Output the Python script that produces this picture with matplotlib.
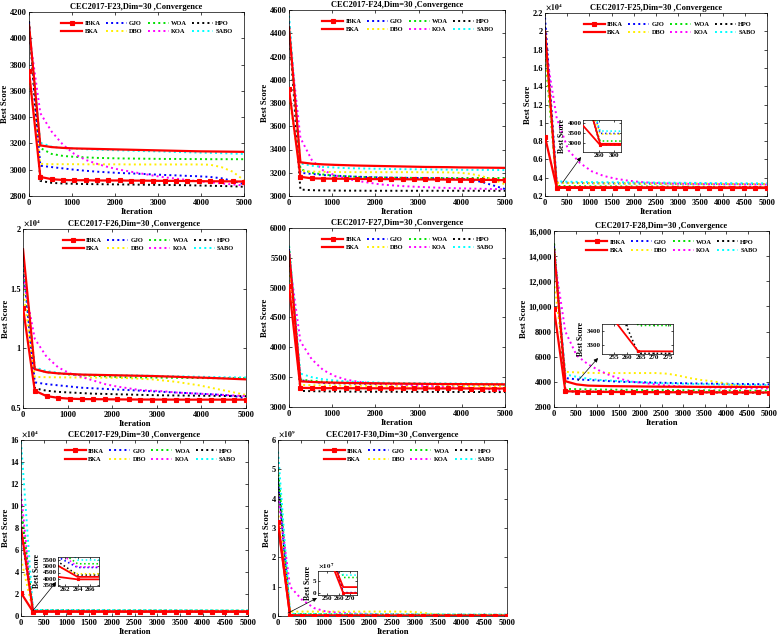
import matplotlib
matplotlib.use("Agg")
import matplotlib.pyplot as plt
from matplotlib.lines import Line2D

plt.rcParams["font.family"] = ["Liberation Serif", "DejaVu Serif"]
plt.rcParams["font.weight"] = "bold"
plt.rcParams["axes.labelweight"] = "bold"
plt.rcParams["axes.titleweight"] = "bold"
plt.rcParams["mathtext.fontset"] = "stix"

# ---------------------------------------------------------------------------
# data: best score sampled at 20 iterations per algorithm
# ---------------------------------------------------------------------------
ITER = [1, 264, 527, 790, 1053, 1316, 1579, 1842, 2106, 2369,
        2632, 2895, 3158, 3421, 3685, 3948, 4211, 4474, 4737, 5000]

F23 = {
    "IBKA": [3750, 2945, 2928, 2922, 2920, 2920, 2918, 2918, 2918, 2917, 2917, 2916, 2915, 2915, 2914, 2913, 2912, 2912, 2911, 2910],
    "BKA": [4100, 3185, 3172, 3166, 3162, 3160, 3158, 3156, 3154, 3152, 3150, 3148, 3146, 3144, 3142, 3140, 3139, 3138, 3137, 3136],
    "GJO": [4120, 3030, 3020, 3010, 3000, 2992, 2985, 2980, 2975, 2972, 2968, 2964, 2960, 2957, 2953, 2950, 2945, 2935, 2915, 2890],
    "DBO": [3700, 3045, 3042, 3042, 3042, 3041, 3041, 3041, 3041, 3040, 3040, 3040, 3040, 3040, 3040, 3040, 3038, 3020, 2985, 2920],
    "WOA": [4090, 3165, 3120, 3105, 3098, 3094, 3090, 3088, 3086, 3085, 3084, 3083, 3082, 3082, 3081, 3081, 3080, 3080, 3080, 3080],
    "KOA": [4050, 3430, 3290, 3190, 3120, 3075, 3045, 3020, 3000, 2985, 2970, 2955, 2942, 2932, 2922, 2912, 2904, 2896, 2888, 2880],
    "HPO": [4130, 2915, 2900, 2895, 2893, 2891, 2890, 2889, 2888, 2887, 2886, 2885, 2884, 2883, 2882, 2880, 2878, 2876, 2874, 2870],
    "SABO": [4100, 3205, 3175, 3165, 3160, 3156, 3152, 3150, 3147, 3145, 3142, 3140, 3138, 3135, 3133, 3130, 3128, 3126, 3123, 3120],
}
F24 = {
    "IBKA": [3920, 3165, 3152, 3150, 3149, 3148, 3147, 3146, 3145, 3145, 3144, 3143, 3142, 3142, 3141, 3140, 3140, 3139, 3138, 3136],
    "BKA": [4450, 3290, 3278, 3272, 3268, 3265, 3262, 3260, 3258, 3256, 3254, 3252, 3250, 3249, 3248, 3246, 3245, 3244, 3243, 3242],
    "GJO": [4500, 3200, 3190, 3180, 3175, 3170, 3166, 3163, 3160, 3158, 3156, 3155, 3154, 3152, 3150, 3148, 3140, 3120, 3090, 3060],
    "DBO": [3850, 3215, 3210, 3208, 3206, 3205, 3205, 3205, 3205, 3205, 3205, 3205, 3204, 3204, 3203, 3200, 3190, 3170, 3140, 3100],
    "WOA": [4450, 3230, 3200, 3185, 3175, 3170, 3165, 3162, 3160, 3158, 3157, 3156, 3155, 3155, 3155, 3155, 3155, 3155, 3155, 3155],
    "KOA": [4400, 3500, 3310, 3220, 3180, 3150, 3130, 3115, 3100, 3092, 3085, 3080, 3076, 3072, 3069, 3066, 3064, 3062, 3060, 3058],
    "HPO": [4450, 3055, 3050, 3048, 3047, 3046, 3046, 3045, 3045, 3045, 3045, 3045, 3045, 3045, 3045, 3045, 3045, 3045, 3045, 3045],
    "SABO": [4550, 3280, 3260, 3250, 3245, 3240, 3238, 3236, 3234, 3232, 3231, 3230, 3229, 3228, 3227, 3226, 3225, 3225, 3224, 3223],
}
F25 = {
    "IBKA": [8450, 2900, 2890, 2888, 2886, 2885, 2884, 2883, 2882, 2881, 2880, 2880, 2879, 2879, 2878, 2878, 2877, 2877, 2876, 2876],
    "BKA": [20000, 2960, 2955, 2950, 2948, 2946, 2944, 2942, 2940, 2938, 2936, 2935, 2934, 2933, 2932, 2931, 2930, 2930, 2930, 2930],
    "GJO": [21500, 3480, 3440, 3420, 3400, 3390, 3380, 3370, 3360, 3355, 3350, 3345, 3340, 3335, 3330, 3325, 3320, 3315, 3310, 3305],
    "DBO": [18000, 3450, 3420, 3400, 3390, 3380, 3370, 3360, 3350, 3345, 3340, 3335, 3330, 3325, 3320, 3315, 3310, 3305, 3300, 3295],
    "WOA": [17500, 3100, 3080, 3070, 3060, 3055, 3050, 3045, 3040, 3035, 3030, 3025, 3020, 3015, 3010, 3005, 3000, 2995, 2990, 2985],
    "KOA": [18500, 10500, 7000, 5600, 4700, 4200, 3900, 3700, 3550, 3450, 3400, 3350, 3330, 3310, 3300, 3290, 3280, 3270, 3260, 3250],
    "HPO": [20500, 2920, 2910, 2905, 2900, 2898, 2896, 2894, 2892, 2890, 2889, 2888, 2887, 2886, 2885, 2884, 2883, 2882, 2881, 2880],
    "SABO": [19500, 3600, 3560, 3540, 3520, 3510, 3500, 3490, 3480, 3470, 3460, 3450, 3440, 3430, 3420, 3410, 3400, 3395, 3390, 3385],
}
F26 = {
    "IBKA": [13400, 6450, 6000, 5850, 5780, 5750, 5740, 5730, 5720, 5715, 5710, 5708, 5705, 5703, 5700, 5700, 5700, 5700, 5700, 5700],
    "BKA": [18300, 8250, 8000, 7900, 7850, 7800, 7780, 7760, 7740, 7720, 7700, 7680, 7650, 7620, 7580, 7550, 7520, 7480, 7440, 7400],
    "GJO": [17000, 7150, 7000, 6900, 6800, 6700, 6650, 6600, 6550, 6500, 6450, 6400, 6350, 6300, 6250, 6200, 6150, 6100, 6000, 5800],
    "DBO": [15000, 7600, 7580, 7570, 7560, 7550, 7550, 7540, 7530, 7500, 7450, 7400, 7300, 7200, 7050, 6900, 6700, 6500, 6300, 6100],
    "WOA": [17500, 8300, 8000, 7900, 7800, 7750, 7700, 7650, 7600, 7580, 7560, 7550, 7540, 7530, 7520, 7510, 7500, 7500, 7500, 7500],
    "KOA": [16000, 10800, 9300, 8400, 7900, 7600, 7300, 7000, 6800, 6650, 6500, 6450, 6400, 6300, 6250, 6200, 6150, 6100, 6050, 6000],
    "HPO": [17500, 6650, 6450, 6350, 6300, 6250, 6200, 6180, 6150, 6130, 6100, 6080, 6060, 6050, 6040, 6030, 6020, 6010, 6000, 5990],
    "SABO": [17500, 8400, 8100, 7950, 7850, 7800, 7780, 7760, 7750, 7740, 7720, 7700, 7680, 7660, 7640, 7620, 7600, 7580, 7570, 7560],
}
F27 = {
    "IBKA": [5020, 3320, 3318, 3316, 3315, 3315, 3314, 3314, 3313, 3313, 3312, 3312, 3312, 3311, 3311, 3311, 3310, 3310, 3310, 3310],
    "BKA": [5600, 3430, 3420, 3412, 3408, 3404, 3400, 3398, 3396, 3394, 3392, 3390, 3388, 3386, 3385, 3384, 3383, 3382, 3381, 3380],
    "GJO": [5650, 3450, 3420, 3405, 3398, 3394, 3390, 3388, 3386, 3384, 3382, 3380, 3378, 3376, 3375, 3374, 3373, 3372, 3371, 3370],
    "DBO": [5300, 3370, 3365, 3362, 3360, 3358, 3357, 3356, 3355, 3354, 3353, 3352, 3352, 3351, 3351, 3350, 3350, 3350, 3350, 3350],
    "WOA": [5700, 3460, 3440, 3425, 3415, 3410, 3405, 3400, 3398, 3396, 3394, 3392, 3390, 3388, 3386, 3385, 3384, 3383, 3382, 3380],
    "KOA": [5500, 4100, 3800, 3620, 3520, 3460, 3425, 3405, 3392, 3382, 3372, 3362, 3352, 3342, 3332, 3322, 3312, 3302, 3292, 3282],
    "HPO": [5550, 3270, 3265, 3262, 3260, 3258, 3257, 3256, 3255, 3255, 3254, 3254, 3253, 3253, 3252, 3252, 3251, 3251, 3250, 3250],
    "SABO": [5700, 3560, 3500, 3465, 3445, 3430, 3420, 3415, 3410, 3405, 3402, 3400, 3398, 3396, 3395, 3394, 3393, 3392, 3391, 3390],
}
F28 = {
    "IBKA": [9800, 3255, 3230, 3210, 3200, 3195, 3190, 3185, 3180, 3178, 3175, 3172, 3170, 3168, 3165, 3162, 3160, 3158, 3155, 3150],
    "BKA": [14500, 4050, 3800, 3700, 3680, 3660, 3650, 3640, 3630, 3620, 3615, 3610, 3605, 3600, 3600, 3600, 3600, 3600, 3600, 3600],
    "GJO": [14800, 4300, 4200, 4150, 4100, 4050, 4000, 3980, 3960, 3940, 3920, 3900, 3880, 3870, 3860, 3850, 3840, 3830, 3820, 3800],
    "DBO": [12000, 4800, 4750, 4720, 4700, 4700, 4700, 4700, 4700, 4700, 4650, 4500, 4300, 4150, 4050, 3900, 3700, 3600, 3550, 3500],
    "WOA": [15000, 3440, 3420, 3400, 3390, 3380, 3370, 3360, 3350, 3345, 3340, 3335, 3330, 3325, 3320, 3315, 3310, 3305, 3300, 3300],
    "KOA": [14000, 8000, 6100, 5400, 4900, 4500, 4200, 4000, 3900, 3800, 3700, 3650, 3600, 3570, 3550, 3530, 3510, 3500, 3490, 3480],
    "HPO": [15000, 3240, 3230, 3220, 3215, 3210, 3205, 3200, 3195, 3190, 3185, 3180, 3175, 3170, 3165, 3160, 3155, 3150, 3145, 3140],
    "SABO": [14500, 4600, 4400, 4250, 4150, 4100, 4050, 4000, 3950, 3900, 3880, 3860, 3840, 3820, 3800, 3790, 3780, 3770, 3760, 3750],
}
F29 = {
    "IBKA": [21000, 3950, 3940, 3935, 3930, 3928, 3926, 3924, 3922, 3920, 3918, 3916, 3914, 3912, 3910, 3908, 3906, 3904, 3902, 3900],
    "BKA": [80000, 4150, 4140, 4130, 4120, 4115, 4110, 4105, 4100, 4095, 4090, 4085, 4080, 4075, 4070, 4065, 4060, 4055, 4050, 4050],
    "GJO": [76000, 4900, 4880, 4860, 4840, 4820, 4800, 4780, 4760, 4740, 4720, 4700, 4680, 4660, 4640, 4620, 4600, 4580, 4560, 4540],
    "DBO": [52000, 4400, 4390, 4380, 4370, 4360, 4350, 4340, 4330, 4320, 4310, 4300, 4290, 4280, 4270, 4260, 4250, 4240, 4230, 4220],
    "WOA": [100000, 5200, 5180, 5160, 5140, 5120, 5100, 5080, 5060, 5040, 5020, 5000, 4980, 4960, 4940, 4920, 4900, 4880, 4860, 4840],
    "KOA": [111000, 4950, 4900, 4850, 4800, 4750, 4700, 4650, 4600, 4550, 4500, 4480, 4460, 4440, 4420, 4400, 4380, 4360, 4340, 4320],
    "HPO": [95000, 4300, 4280, 4260, 4240, 4220, 4200, 4190, 4180, 4170, 4160, 4150, 4140, 4130, 4120, 4110, 4100, 4090, 4080, 4070],
    "SABO": [158000, 5500, 5480, 5460, 5440, 5420, 5400, 5380, 5360, 5340, 5320, 5300, 5280, 5260, 5240, 5220, 5200, 5180, 5160, 5140],
}
F30 = {
    "IBKA": [3.2e9, 1.0e5, 9.0e4, 8.5e4, 8.0e4, 7.5e4, 7.0e4, 6.5e4, 6.0e4, 5.5e4, 5.0e4, 4.8e4, 4.6e4, 4.4e4, 4.2e4, 4.0e4, 3.8e4, 3.6e4, 3.4e4, 3.2e4],
    "BKA": [3.1e9, 2.5e7, 2.4e7, 2.3e7, 2.2e7, 2.1e7, 2.0e7, 1.9e7, 1.8e7, 1.7e7, 1.6e7, 1.5e7, 1.5e7, 1.4e7, 1.4e7, 1.3e7, 1.3e7, 1.2e7, 1.2e7, 1.1e7],
    "GJO": [4.6e9, 2.0e6, 1.8e6, 1.6e6, 1.5e6, 1.4e6, 1.3e6, 1.2e6, 1.1e6, 1.0e6, 9.5e5, 9.0e5, 8.5e5, 8.0e5, 7.5e5, 7.0e5, 6.5e5, 6.0e5, 5.5e5, 5.0e5],
    "DBO": [3.6e9, 1.5e8, 1.5e8, 1.5e8, 1.5e8, 1.5e8, 1.5e8, 1.5e8, 1.5e8, 1.5e8, 1.5e8, 1.45e8, 1.1e8, 6.0e7, 3.5e7, 2.8e7, 2.5e7, 2.3e7, 2.1e7, 2.0e7],
    "WOA": [5.0e9, 6.5e7, 6.2e7, 6.0e7, 5.8e7, 5.6e7, 5.4e7, 5.2e7, 5.0e7, 4.9e7, 4.8e7, 4.7e7, 4.6e7, 4.5e7, 4.4e7, 4.3e7, 4.2e7, 4.1e7, 4.0e7, 4.0e7],
    "KOA": [4.1e9, 1.0e9, 5.5e8, 2.7e8, 1.5e8, 1.1e8, 9.0e7, 8.0e7, 7.0e7, 6.0e7, 5.0e7, 4.5e7, 4.0e7, 3.5e7, 3.0e7, 2.5e7, 2.0e7, 1.8e7, 1.6e7, 1.5e7],
    "HPO": [4.7e9, 1.0e6, 9.0e5, 8.5e5, 8.0e5, 7.5e5, 7.0e5, 6.5e5, 6.0e5, 5.5e5, 5.0e5, 4.8e5, 4.6e5, 4.4e5, 4.2e5, 4.0e5, 3.8e5, 3.6e5, 3.4e5, 3.2e5],
    "SABO": [5.6e9, 7.5e7, 7.2e7, 7.0e7, 6.8e7, 6.6e7, 6.4e7, 6.2e7, 6.0e7, 5.9e7, 5.8e7, 5.7e7, 5.6e7, 5.5e7, 5.4e7, 5.3e7, 5.2e7, 5.1e7, 5.0e7, 5.0e7],
}

# legend order (ncol=4 fills column-wise)
ALGS = ["IBKA", "BKA", "GJO", "DBO", "WOA", "KOA", "HPO", "SABO"]
DRAW_ORDER = ["HPO", "GJO", "WOA", "DBO", "KOA", "SABO", "BKA", "IBKA"]

STYLE = {
    "IBKA": dict(color="#ff0000", ls="-", lw=1.6, marker="s", ms=2.3, mew=0.8),
    "BKA": dict(color="#ff0000", ls="-", lw=1.6),
    "GJO": dict(color="#0000ff", ls=":", lw=1.4),
    "DBO": dict(color="#ffee00", ls=":", lw=1.4),
    "WOA": dict(color="#00e000", ls=":", lw=1.4),
    "KOA": dict(color="#ff00ff", ls=":", lw=1.4),
    "HPO": dict(color="#000000", ls=":", lw=1.4),
    "SABO": dict(color="#00ffff", ls=":", lw=1.4),
}

W, H = 777, 637
fig = plt.figure(figsize=(W / 100, H / 100), dpi=100)


def px_axes(l, t, r, b):
    return fig.add_axes([l / W, 1 - b / H, (r - l) / W, (b - t) / H])


def fig_xy(px, py):
    return (px / W, 1 - py / H)


def style_axes(ax, size=6, ypad=1.5, xpad=2.0):
    ax.tick_params(direction="in", length=2.5, width=0.5, top=True, right=True,
                   labelsize=size)
    ax.tick_params(axis="y", pad=ypad)
    ax.tick_params(axis="x", pad=xpad)
    for s in ax.spines.values():
        s.set_linewidth(0.5)


def draw_lines(ax, data, small=False):
    for name in DRAW_ORDER:
        st = dict(STYLE[name])
        if small:
            st["lw"] = st["lw"] * 0.8
            if "ms" in st:
                st["ms"] = 2.0
        ax.plot(ITER, data[name], **st, zorder=3 if name == "IBKA" else 2)


def sci_label(ax, exp, size=5.5):
    ax.text(0.0, 1.008, rf"$\times10^{{{exp}}}$", transform=ax.transAxes,
            ha="left", va="bottom", fontsize=size)


panels = [
    dict(name="F23", data=F23, box=(29, 12, 244, 196), ylim=(2800, 4200),
         yticks=list(range(2800, 4201, 200)), ylabels=None, xstep=1000),
    dict(name="F24", data=F24, box=(289, 10, 505, 196), ylim=(3000, 4600),
         yticks=list(range(3000, 4601, 200)), ylabels=None, xstep=1000),
    dict(name="F25", data=F25, box=(545, 13, 767, 196), ylim=(2000, 22000),
         yticks=list(range(2000, 22001, 2000)),
         ylabels=["0.2", "0.4", "0.6", "0.8", "1", "1.2", "1.4", "1.6", "1.8", "2", "2.2"],
         exp=4, xstep=500),
    dict(name="F26", data=F26, box=(23, 229, 246, 408), ylim=(5000, 20000),
         yticks=[5000, 10000, 15000, 20000], ylabels=["0.5", "1", "1.5", "2"],
         exp=4, xstep=1000),
    dict(name="F27", data=F27, box=(289, 228, 505, 407), ylim=(3000, 6000),
         yticks=list(range(3000, 6001, 500)), ylabels=None, xstep=1000),
    dict(name="F28", data=F28, box=(554, 231, 769, 407), ylim=(2000, 16000),
         yticks=list(range(2000, 16001, 2000)),
         ylabels=["2000", "4000", "6000", "8000", "10,000", "12,000", "14,000", "16,000"],
         xstep=500),
    dict(name="F29", data=F29, box=(21, 440, 248, 616), ylim=(0, 160000),
         yticks=list(range(0, 160001, 20000)),
         ylabels=["0", "2", "4", "6", "8", "10", "12", "14", "16"], exp=4, xstep=500),
    dict(name="F30", data=F30, box=(278, 440, 507, 616), ylim=(0, 6e9),
         yticks=[0, 1e9, 2e9, 3e9, 4e9, 5e9, 6e9],
         ylabels=["0", "1", "2", "3", "4", "5", "6"], exp=9, xstep=500),
]

insets = {
    "F25": dict(box=(583, 120, 621, 152), xlim=(218, 320), ylim=(2550, 4150),
                xticks=[260, 300], yticks=[3000, 3500, 4000], ylabels=None,
                start=(400, 3500), tip=(581, 157)),
    "F28": dict(box=(602, 324, 673, 354), xlim=(250.5, 277), ylim=(3235, 3450),
                xticks=[255, 260, 265, 270, 275], yticks=[3300, 3400], ylabels=None,
                start=(560, 4100), tip=(598, 358)),
    "F29": dict(box=(58, 557, 99, 586), xlim=(260.9, 267.4), ylim=(3420, 5740),
                xticks=[262, 264, 266], yticks=[3500, 4000, 4500, 5000, 5500], ylabels=None,
                start=(264, 5000), tip=(56, 582)),
    "F30": dict(box=(318, 571, 357, 595), xlim=(242, 276), ylim=(-0.8e7, 9.2e7),
                xticks=[250, 260, 270], yticks=[0, 5e7], ylabels=["0", "5"], exp=7,
                start=(218, 1e8), tip=(317, 598)),
}

for p in panels:
    ax = px_axes(*p["box"])
    draw_lines(ax, p["data"])
    ax.set_xlim(0, 5000)
    ax.set_ylim(*p["ylim"])
    ax.set_xticks(list(range(0, 5001, p["xstep"])))
    if p["ylabels"] is None:
        ax.set_yticks(p["yticks"])
    else:
        ax.set_yticks(p["yticks"], p["ylabels"])
    style_axes(ax)
    if "exp" in p:
        sci_label(ax, p["exp"])
    ax.set_title(f"CEC2017-{p['name']},Dim=30 ,Convergence", fontsize=6, pad=2)
    ax.set_xlabel("Iteration", fontsize=6.2, labelpad=1)
    ax.set_ylabel("Best Score", fontsize=6.2, labelpad=0.5)

    handles = [Line2D([0], [0], **STYLE[a]) for a in ALGS]
    ax.legend(handles, ALGS, ncol=4, loc="upper right", bbox_to_anchor=(0.965, 0.975),
              frameon=False, fontsize=4.6, handlelength=3.3, columnspacing=0.8,
              handletextpad=0.35, labelspacing=0.45, borderaxespad=0.2)

    if p["name"] in insets:
        ins = insets[p["name"]]
        iax = px_axes(*ins["box"])
        draw_lines(iax, p["data"], small=True)
        iax.set_xlim(*ins["xlim"])
        iax.set_ylim(*ins["ylim"])
        iax.set_xticks(ins["xticks"])
        if ins["ylabels"] is None:
            iax.set_yticks(ins["yticks"])
        else:
            iax.set_yticks(ins["yticks"], ins["ylabels"])
        style_axes(iax, size=5, ypad=1, xpad=1)
        iax.tick_params(length=1.5)
        iax.set_ylabel("Best Score", fontsize=5.5, labelpad=1)
        if "exp" in ins:
            sci_label(iax, ins["exp"], size=5)
        ax.annotate("", xy=fig_xy(*ins["tip"]), xycoords="figure fraction",
                    xytext=ins["start"], textcoords="data",
                    arrowprops=dict(arrowstyle="-|>", color="k", lw=0.5,
                                    mutation_scale=6, shrinkA=0, shrinkB=0))

fig.savefig("out.png", dpi=100)
